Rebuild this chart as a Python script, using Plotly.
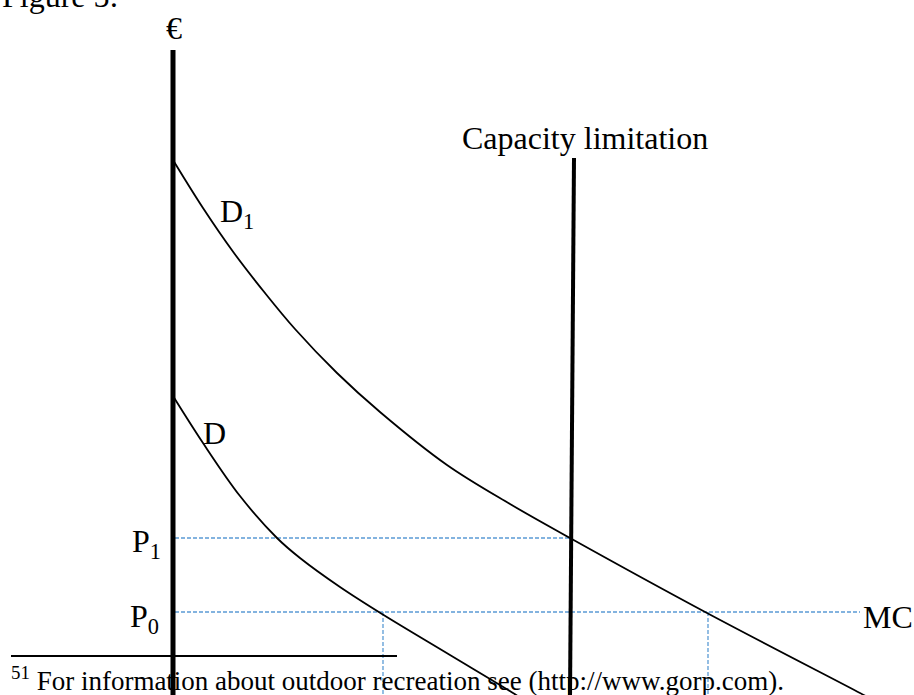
import plotly.graph_objects as go

# Coordinate system: quantity (Q) to the right of the price axis, price (P) upward.
W, H = 914, 695
Q_MIN, Q_MAX = -173, 741
P_MIN, P_MAX = 0, 695

# Demand curve D1
d1_q = [0, 30, 61, 92, 122, 164, 207, 274, 337, 397, 534, 687, 700]
d1_p = [535, 487, 442, 402, 366, 322, 283, 230, 191, 157, 82, 2, -5]

# Demand curve D
d_q = [0, 30, 67, 104, 127, 167, 209, 277, 340, 352]
d_p = [299, 252, 199, 157, 137, 108, 81, 40, 2, -6]

# Capacity limitation (nearly vertical)
cap_q = [401, 397]
cap_p = [537, -3]

# Price axis
axis_q = [0, 0]
axis_p = [-3, 645]

# Price levels and quantities
P1 = 157
P0 = 83
Q_cap_P1 = 399
Q_D_P0 = 210
Q_D1_P0 = 535
MC_end_q = 687

SERIF = "Liberation Serif"
BLUE = "#5B9BD5"

fig = go.Figure()

dash_style = dict(color=BLUE, width=1.3, dash="4px,2px")
fig.add_trace(go.Scatter(x=[2, Q_cap_P1], y=[P1, P1], mode="lines", line=dash_style, hoverinfo="skip"))
fig.add_trace(go.Scatter(x=[2, MC_end_q], y=[P0, P0], mode="lines", line=dash_style, hoverinfo="skip"))
fig.add_trace(go.Scatter(x=[Q_D_P0, Q_D_P0], y=[P0, -5], mode="lines", line=dash_style, hoverinfo="skip"))
fig.add_trace(go.Scatter(x=[Q_D1_P0, Q_D1_P0], y=[P0, -5], mode="lines", line=dash_style, hoverinfo="skip"))

# demand curves
fig.add_trace(go.Scatter(x=d1_q, y=d1_p, mode="lines",
                         line=dict(color="black", width=1.8, shape="spline", smoothing=1), hoverinfo="skip"))
fig.add_trace(go.Scatter(x=d_q, y=d_p, mode="lines",
                         line=dict(color="black", width=1.8, shape="spline", smoothing=1), hoverinfo="skip"))

# capacity line and price axis
fig.add_trace(go.Scatter(x=cap_q, y=cap_p, mode="lines",
                         line=dict(color="black", width=4), hoverinfo="skip"))
fig.add_trace(go.Scatter(x=axis_q, y=axis_p, mode="lines",
                         line=dict(color="black", width=5), hoverinfo="skip"))

def px(xp):
    return xp / W

def py(yp):
    return 1 - yp / H

ann = []
def label(text, x, y, size=32, xanchor="left"):
    ann.append(dict(text=text, x=px(x), y=py(y), xref="paper", yref="paper",
                    xanchor=xanchor, yanchor="middle", showarrow=False,
                    font=dict(family=SERIF, size=size, color="black")))

label("Figure 5:", 0, -4)
label("€", 174, 28, xanchor="center")
label("Capacity limitation", 460, 138)
label("D<sub>1</sub>", 218, 214)
label("D", 201, 433)
label("P<sub>1</sub>", 130, 543)
label("P<sub>0</sub>", 128, 618)
label("MC", 861, 617)
label("<sup>51</sup> For information about outdoor recreation see (http://www.gorp.com).", 9, 679, size=27)

fig.update_layout(
    width=W, height=H,
    margin=dict(l=0, r=0, t=0, b=0),
    paper_bgcolor="white", plot_bgcolor="white",
    showlegend=False,
    xaxis=dict(range=[Q_MIN, Q_MAX], visible=False, fixedrange=True),
    yaxis=dict(range=[P_MIN, P_MAX], visible=False, fixedrange=True),
    annotations=ann,
    shapes=[dict(type="line", xref="paper", yref="paper",
                 x0=px(11), x1=px(397), y0=py(656), y1=py(656),
                 line=dict(color="black", width=2))],
)

fig.write_html("out.html", config={"displayModeBar": False},
               post_script="document.body.style.margin='0';document.body.style.overflow='hidden';")
